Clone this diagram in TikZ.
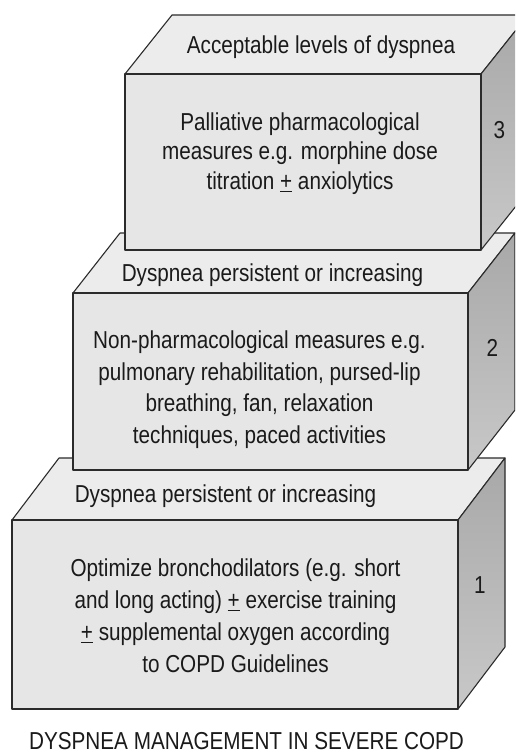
\documentclass[tikz,border=0pt]{standalone}
\usepackage{fontspec}
\setmainfont[FakeStretch=0.845]{Liberation Sans}
\definecolor{frontc}{HTML}{E6E6E6}
\definecolor{topc}{HTML}{ECECEC}
\definecolor{sidetop}{HTML}{A8A8A8}
\definecolor{sidebot}{HTML}{C8C8C8}
\definecolor{edgec}{HTML}{2B2B2B}
\definecolor{txtc}{HTML}{1A1A1A}
\tikzset{
  facetop/.style={fill=topc,draw=edgec,line width=1.1pt,line join=round},
  facefront/.style={fill=frontc,draw=edgec,line width=1.1pt,line join=round},
  faceside/.style={top color=sidetop,bottom color=sidebot,draw=edgec,line width=1.1pt,line join=round},
  lbl/.style={inner sep=0pt,text=txtc,font=\fontsize{24.5}{29.5}\selectfont},
  toplabel/.style={lbl,anchor=base},
  bodytext/.style={lbl,align=center,anchor=north},
  numlabel/.style={lbl,anchor=center}
}
% x1 y1 x2 y2 dx dy : front face corners and depth offset
\newcommand\stepslab[6]{%
  \path[facetop] (#1,#2) -- (#1+#5,#2-#6) -- (#3+#5,#2-#6) -- (#3,#2) -- cycle;
  \shadedraw[faceside] (#3,#2) -- (#3+#5,#2-#6) -- (#3+#5,#4-#6) -- (#3,#4) -- cycle;
  \path[facefront] (#1,#2) rectangle (#3,#4);
}
\begin{document}
\begin{tikzpicture}[x=1pt,y=-1pt]
\useasboundingbox (0,0) rectangle (515,753);
\fill[white] (0,0) rectangle (515,753);
\begin{scope}
\clip (0,0) rectangle (515,753);
\stepslab{12}{520}{458}{709}{47}{62}
\stepslab{73}{293}{468}{470}{47}{60}
\stepslab{125}{74}{481}{250}{47}{59}
\end{scope}

\node[toplabel] (top3) at (321,53.3) {Acceptable levels of dyspnea};
\node[bodytext,font=\fontsize{24.5}{29.5}\selectfont] (body3) at (300,112.5)
  {Palliative pharmacological\\measures e.g. morphine dose\\titration \underline{+} anxiolytics};
\node[numlabel] (num3) at (499.5,130) {3};

\node[toplabel] (top2) at (272.5,281.5) {Dyspnea persistent or increasing};
\node[bodytext,font=\fontsize{24.5}{31.5}\selectfont] (body2) at (259.5,331)
  {Non-pharmacological measures e.g.\\pulmonary rehabilitation, pursed-lip\\breathing, fan, relaxation\\techniques, paced activities};
\node[numlabel] (num2) at (492.5,348) {2};

\node[toplabel] (top1) at (225.5,502.5) {Dyspnea persistent or increasing};
\node[bodytext,font=\fontsize{24.5}{31.7}\selectfont] (body1) at (235.5,559)
  {Optimize bronchodilators (e.g. short\\and long acting) \underline{+} exercise training\\\underline{+} supplemental oxygen according\\to COPD Guidelines};
\node[numlabel] (num1) at (480,585) {1};

\node[toplabel] (title) at (246.5,749) {DYSPNEA MANAGEMENT IN SEVERE COPD};
\end{tikzpicture}
\end{document}
